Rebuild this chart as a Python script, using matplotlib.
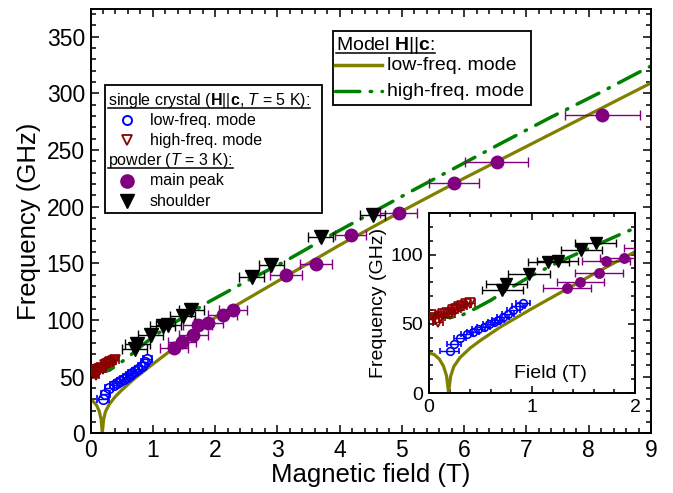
import numpy as np
import matplotlib
matplotlib.use('Agg')
import matplotlib.pyplot as plt
from matplotlib.patches import Rectangle
from matplotlib.ticker import MultipleLocator

plt.rcParams['font.family'] = ['Liberation Sans', 'DejaVu Sans']
plt.rcParams['mathtext.fontset'] = 'custom'
plt.rcParams['mathtext.rm'] = 'Liberation Sans'
plt.rcParams['mathtext.it'] = 'Liberation Sans:italic'
plt.rcParams['mathtext.bf'] = 'Liberation Sans:bold'

# single crystal (H||c, T = 5 K), low-freq. mode
sc_low_H = [0.20, 0.24, 0.30, 0.37, 0.43, 0.48, 0.53, 0.58, 0.63, 0.67, 0.72, 0.77, 0.82, 0.87, 0.91]
sc_low_f = [30.1, 35.1, 39.7, 42.4, 44.1, 46.3, 47.7, 49.6, 51.3, 53.0, 55.0, 56.9, 59.8, 62.7, 65.3]
sc_low_err = [0.09, 0.07, 0.06, 0.06, 0.06, 0.06, 0.06, 0.06, 0.06, 0.06, 0.06, 0.06, 0.06, 0.06, 0.07]

# single crystal, high-freq. mode
sc_high_H = [0.02, 0.05, 0.09, 0.11, 0.14, 0.17, 0.20, 0.23, 0.26, 0.29, 0.32, 0.36, 0.40]
sc_high_f = [56, 54, 51, 55, 57, 58, 57, 60, 61, 62, 63, 64, 65]
sc_high_err = [0.05] * 13

# powder (T = 3 K), main peak
pw_main_H = [1.34, 1.47, 1.65, 1.72, 1.89, 2.12, 2.29, 3.14, 3.62, 4.18, 4.95, 5.84, 6.52, 8.22]
pw_main_f = [75.5, 80.3, 87.0, 95.5, 97.5, 104.4, 108.8, 139.7, 149.4, 174.5, 194.2, 220.7, 239.7, 281.0]
pw_main_err = [0.23, 0.23, 0.23, 0.23, 0.23, 0.23, 0.23, 0.25, 0.26, 0.25, 0.30, 0.40, 0.51, 0.60]

# powder, shoulder
pw_sh_H = [0.71, 0.75, 0.97, 1.16, 1.25, 1.48, 1.62, 2.59, 2.90, 3.70, 4.53]
pw_sh_f = [74.2, 79.0, 86.3, 94.7, 95.4, 103.6, 108.4, 138.2, 148.6, 173.5, 192.6]
pw_sh_err = [0.2] * 11

# model H||c
mod_low_H = [0, 0.05, 0.10, 0.14, 0.17, 0.19, 0.21, 0.24, 0.30, 0.40, 0.50, 0.70, 1.00,
             1.30, 1.60, 2.00, 3.00, 4.00, 5.00, 6.00, 7.00, 8.00, 9.00]
mod_low_f = [28.9, 27.8, 24.5, 19.5, 12.5, 0.5, 12.0, 19.0, 25.5, 32.5, 38.0, 48.0, 61.0,
             73.5, 86.0, 102.0, 134.0, 166.0, 196.0, 225.0, 253.0, 281.0, 309.0]
mod_high_H = [0, 0.1, 0.2, 0.3, 0.45, 0.6, 0.75, 1.0, 1.3, 1.6, 1.9, 2.5, 3.1, 3.9,
              5.2, 6.6, 7.4, 8.2, 9.0]
mod_high_f = [57, 55.5, 54.5, 55.5, 61, 67, 74, 85, 96, 106, 116, 134, 151, 176,
              215, 256, 279, 301, 324]

c_blue = '#0000ff'
c_red = '#8b0000'
c_purple = '#800080'
c_olive = '#808000'
c_green = '#008000'
dash_dot = (7, 3, 0.4, 3)


def draw_data(a, ms):
    # ms: marker sizes for (blue, red, purple, black)
    a.plot(mod_low_H, mod_low_f, color=c_olive, lw=2.3, zorder=2)
    a.plot(mod_high_H, mod_high_f, color=c_green, lw=2.5, dashes=dash_dot,
           dash_capstyle='round', zorder=2)
    a.errorbar(sc_low_H, sc_low_f, xerr=sc_low_err, fmt='o', ms=ms[0], mfc='none',
               mec=c_blue, mew=1.2, ecolor=c_blue, elinewidth=1, capsize=ms[0] * 0.45, zorder=3)
    a.errorbar(sc_high_H, sc_high_f, xerr=sc_high_err, fmt='v', ms=ms[1], mfc='none',
               mec=c_red, mew=1.2, ecolor=c_red, elinewidth=1, capsize=ms[1] * 0.4, zorder=3)
    a.errorbar(pw_main_H, pw_main_f, xerr=pw_main_err, fmt='o', ms=ms[2], color=c_purple,
               ecolor=c_purple, elinewidth=1, capsize=ms[2] * 0.4, zorder=4)
    a.errorbar(pw_sh_H, pw_sh_f, xerr=pw_sh_err, fmt='v', ms=ms[3], color='k',
               ecolor='k', elinewidth=1, capsize=ms[3] * 0.35, zorder=4)


def style_ticks(a, size, maj, mino):
    a.tick_params(which='both', direction='in', top=True, right=True, width=1.1,
                  labelsize=size, pad=4)
    a.tick_params(which='major', length=maj)
    a.tick_params(which='minor', length=mino)
    for sp in a.spines.values():
        sp.set_linewidth(1.4)


W, H = 673, 493
fig = plt.figure(figsize=(W / 100, H / 100), dpi=100)

# main axes (pixel box 90.5..651 x 9.3..433.3)
L, R, T, B = 90.5, 651.0, 9.3, 433.3
ax = fig.add_axes([L / W, 1 - B / H, (R - L) / W, (B - T) / H])
draw_data(ax, (6.8, 7.5, 9, 10))
ax.set_xlim(0, 9)
ax.set_ylim(0, 374)
ax.xaxis.set_major_locator(MultipleLocator(1))
ax.xaxis.set_minor_locator(MultipleLocator(0.2))
ax.yaxis.set_major_locator(MultipleLocator(50))
ax.yaxis.set_minor_locator(MultipleLocator(10))
style_ticks(ax, 16.5, 6, 3.5)
ax.set_xlabel('Magnetic field (T)', fontsize=18.5, labelpad=1)
ax.set_ylabel('Frequency (GHz)', fontsize=18.5, labelpad=4)


def pa(px, py):
    return ((px - L) / (R - L), (B - py) / (B - T))


# data legend box
x0, y0 = pa(105, 213)
x1, y1 = pa(322, 85)
ax.add_patch(Rectangle((x0, y0), x1 - x0, y1 - y0, transform=ax.transAxes,
                       fc='white', ec='k', lw=1.3, zorder=6))
heads = []
heads.append(ax.text(*pa(108, 101), r'single crystal ($\mathbf{H}$||$\mathbf{c}$, $T$ = 5 K):',
                     transform=ax.transAxes, fontsize=11.5, va='center', zorder=7))
heads.append(ax.text(*pa(108, 161), r'powder ($T$ = 3 K):',
                     transform=ax.transAxes, fontsize=11.5, va='center', zorder=7))
leg_items = [
    (120, 'o', dict(ms=6.5, mfc='none', mec=c_blue, mew=1.4), 'low-freq. mode'),
    (140, 'v', dict(ms=7.5, mfc='none', mec=c_red, mew=1.3), 'high-freq. mode'),
    (181, 'o', dict(ms=9.5, color=c_purple), 'main peak'),
    (201, 'v', dict(ms=10.5, color='k'), 'shoulder'),
]
for py, mk, kw, lab in leg_items:
    mx, my = pa(127, py)
    ax.plot([mx], [my], mk, transform=ax.transAxes, zorder=7, clip_on=False, **kw)
    ax.text(*pa(150, py), lab, transform=ax.transAxes, fontsize=11.5, va='center', zorder=7)

# model legend box
x0, y0 = pa(333, 105)
x1, y1 = pa(531, 31)
ax.add_patch(Rectangle((x0, y0), x1 - x0, y1 - y0, transform=ax.transAxes,
                       fc='white', ec='k', lw=1.3, zorder=6))
heads.append(ax.text(*pa(336, 45), r'Model $\mathbf{H}$||$\mathbf{c}$:',
                     transform=ax.transAxes, fontsize=14, va='center', zorder=7))
lx0, ly = pa(335, 65)
lx1, _ = pa(382, 65)
ax.plot([lx0, lx1], [ly, ly], color=c_olive, lw=2.5, transform=ax.transAxes, zorder=7)
ax.text(*pa(387, 66), 'low-freq. mode', transform=ax.transAxes, fontsize=14,
        va='center', zorder=7)
lx0, ly = pa(335, 91)
ax.plot([lx0, lx1], [ly, ly], color=c_green, lw=2.5, dashes=dash_dot,
        dash_capstyle='round', transform=ax.transAxes, zorder=7)
ax.text(*pa(387, 92), 'high-freq. mode', transform=ax.transAxes, fontsize=14,
        va='center', zorder=7)

# inset
IL, IR, IT, IB = 429, 635, 213, 393
ins = fig.add_axes([IL / W, 1 - IB / H, (IR - IL) / W, (IB - IT) / H])
ins.set_zorder(10)
draw_data(ins, (5.5, 6.5, 6.8, 8))
ins.set_xlim(0, 2)
ins.set_ylim(0, 130)
ins.xaxis.set_major_locator(MultipleLocator(1))
ins.xaxis.set_minor_locator(MultipleLocator(0.2))
ins.yaxis.set_major_locator(MultipleLocator(50))
ins.yaxis.set_minor_locator(MultipleLocator(10))
style_ticks(ins, 14, 5, 3)
ins.set_ylabel('Frequency (GHz)', fontsize=14, labelpad=3)
ins.text(0.59, 0.11, 'Field (T)', transform=ins.transAxes, fontsize=14, ha='center',
         va='center')

# underline the legend headers
fig.canvas.draw()
inv = ax.transAxes.inverted()
for t in heads:
    bb = t.get_window_extent()
    (ux0, uy0), (ux1, uy1) = inv.transform([[bb.x0, bb.y0], [bb.x1, bb.y1]])
    uy = uy0 + 0.12 * (uy1 - uy0)
    ax.plot([ux0, ux1], [uy, uy], color='k', lw=1.1, transform=ax.transAxes, zorder=7)

fig.savefig('out.png', dpi=100)
